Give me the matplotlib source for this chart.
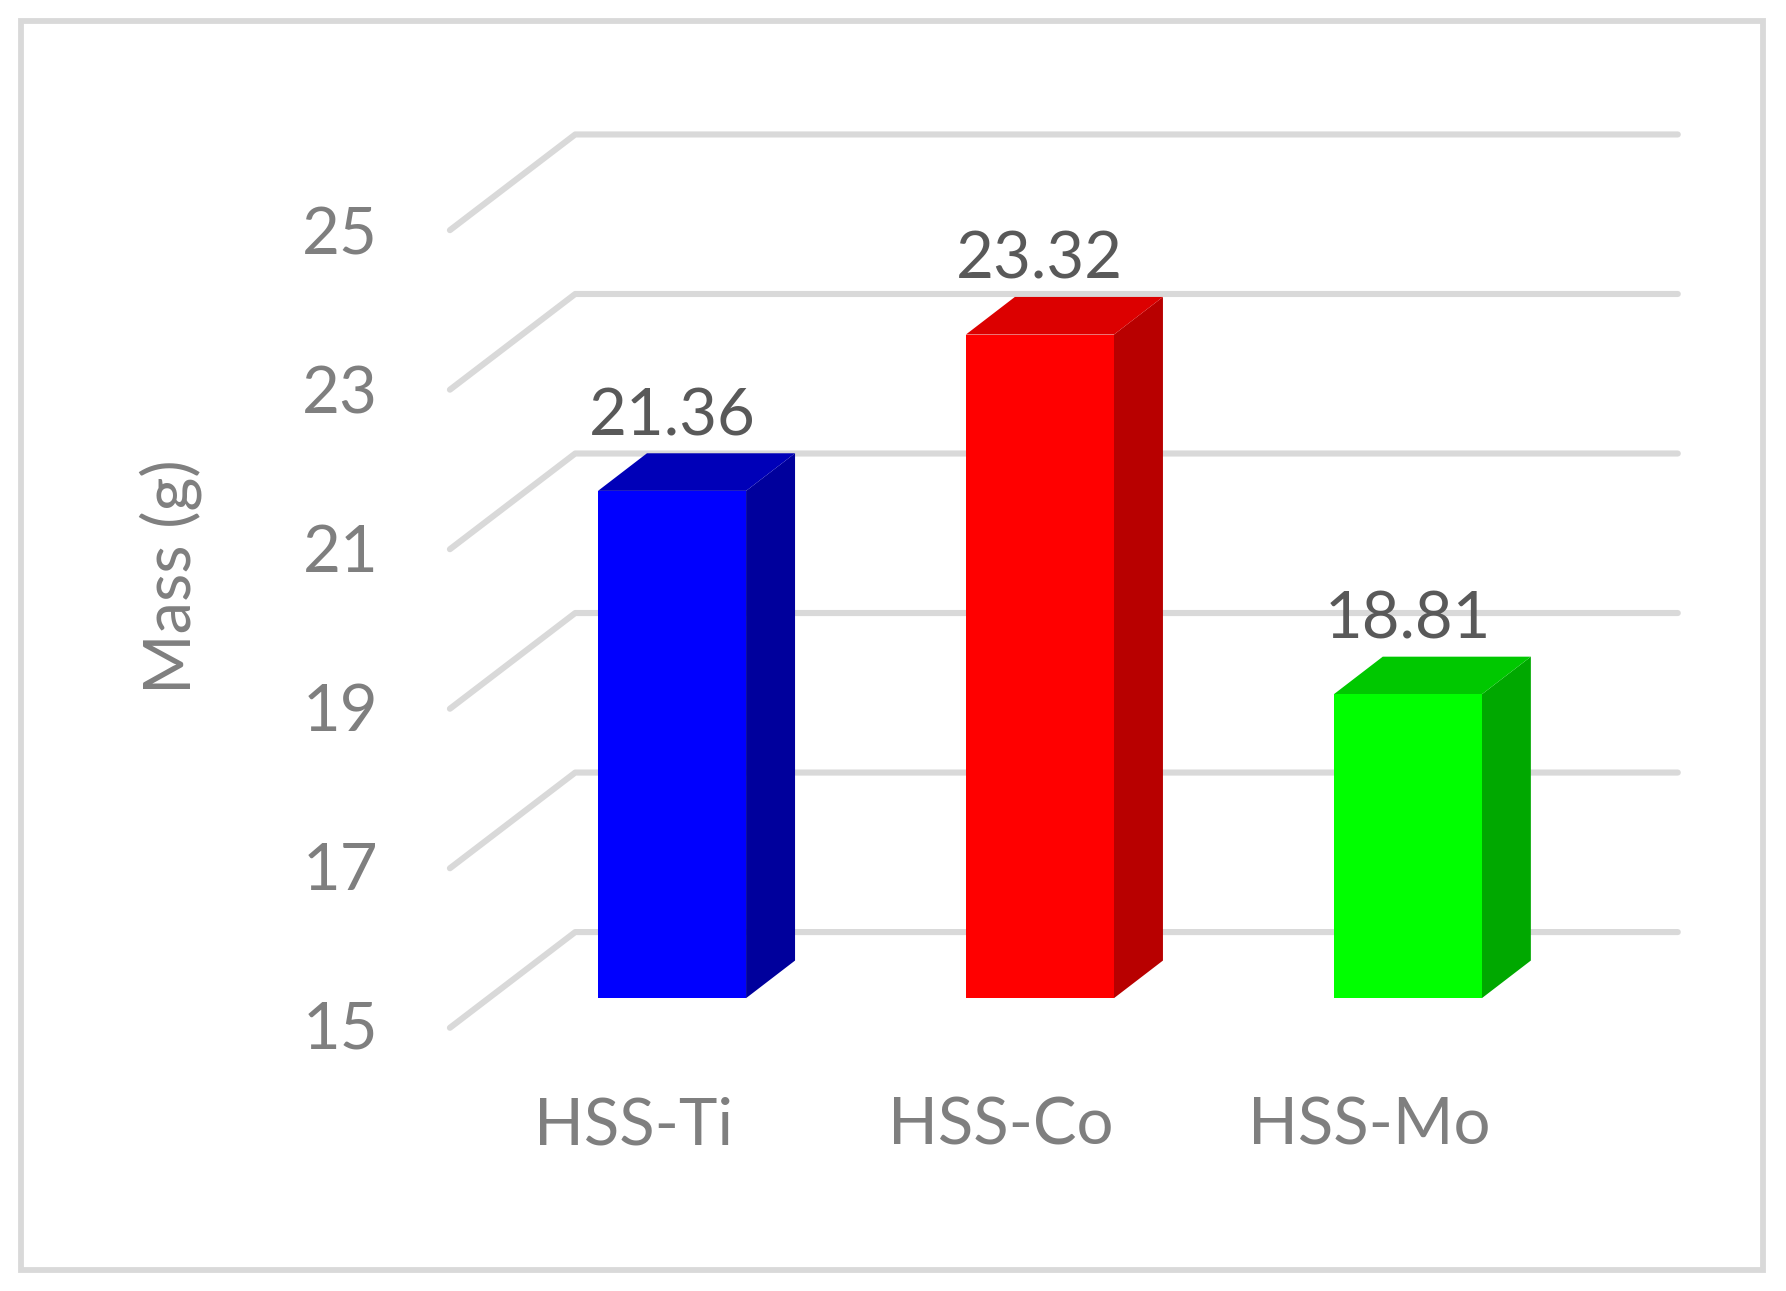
import matplotlib
matplotlib.use("Agg")
import matplotlib.pyplot as plt
from matplotlib.patches import Polygon, Rectangle

categories = ["HSS-Ti", "HSS-Co", "HSS-Mo"]
masses = [21.36, 23.32, 18.81]
value_labels = ["21.36", "23.32", "18.81"]
y_ticks = [15, 17, 19, 21, 23, 25]
front_colors = ["#0000FF", "#FF0000", "#00FF00"]
top_colors = ["#0000B8", "#DC0000", "#00C800"]
side_colors = ["#00009C", "#B80000", "#00A800"]

W, H = 1786, 1291
plt.rcParams["font.family"] = ["Lato", "DejaVu Sans"]
fig = plt.figure(figsize=(W / 100, H / 100), dpi=100, facecolor="white")
ax = fig.add_axes([0, 0, 1, 1])
ax.axis("off")

PX_CAT = 323.0
PX_UNIT = 70.0
X0, Y15 = 590.0, 902.0
FS = 47
ax.set_xlim(-X0 / PX_CAT, (1568 - X0) / PX_CAT)
ax.set_ylim(15 - (1133 - Y15) / PX_UNIT, 15 + Y15 / PX_UNIT)

def dx(px):
    return px / PX_CAT
def dy(px):
    return px / PX_UNIT

# outer frame
ax.add_patch(Rectangle((0.0115, 0.0165), 0.9755, 0.967, transform=ax.transAxes,
                       fill=False, ec="#D9D9D9", lw=4.2))

# floor and wall gridlines
gx0 = dx(395 - X0)
gx1 = dx(505 - X0)
gx2 = dx(1473 - X0)
rise = dy(84)
for v in y_ticks:
    ax.plot([gx0, gx1, gx2], [v, v + rise, v + rise], color="#D9D9D9", lw=4.4,
            solid_joinstyle="round", solid_capstyle="round", zorder=1)
    ax.text(dx(332 - X0), 15 + (v - 15) * 0.995 - dy(2), str(v), ha="right", va="center",
            fontsize=FS, color="#7F7F7F", zorder=3)

# bars
half = dx(65)
ddx, ddy = dx(43), dy(33)
shift = dy(26)
base = 15 + shift
for i, (m, f, t, s) in enumerate(zip(masses, front_colors, top_colors, side_colors)):
    top = m + shift
    ax.add_patch(Polygon([(i + half, base), (i + half + ddx, base + ddy),
                          (i + half + ddx, top + ddy), (i + half, top)],
                         fc=s, ec="none", zorder=2))
    ax.add_patch(Polygon([(i - half, top), (i - half + ddx, top + ddy),
                          (i + half + ddx, top + ddy), (i + half, top)],
                         fc=t, ec="none", zorder=2))
    ax.add_patch(Rectangle((i - half, base), 2 * half, top - base, fc=f, ec="none", zorder=2.5))
    ax.text(i, top + dy(65), value_labels[i], ha="center", va="center",
            fontsize=FS, color="#595959", zorder=4)
    ax.text(i - dx(34), 15 - dy(86), categories[i], ha="center", va="center",
            fontsize=FS, color="#7F7F7F", zorder=3)

ax.text(dx(150 - X0), 20.66, "Mass (g)", rotation=90, ha="center", va="center",
        fontsize=FS, color="#7F7F7F")

fig.savefig("out.png", dpi=100, facecolor="white")
